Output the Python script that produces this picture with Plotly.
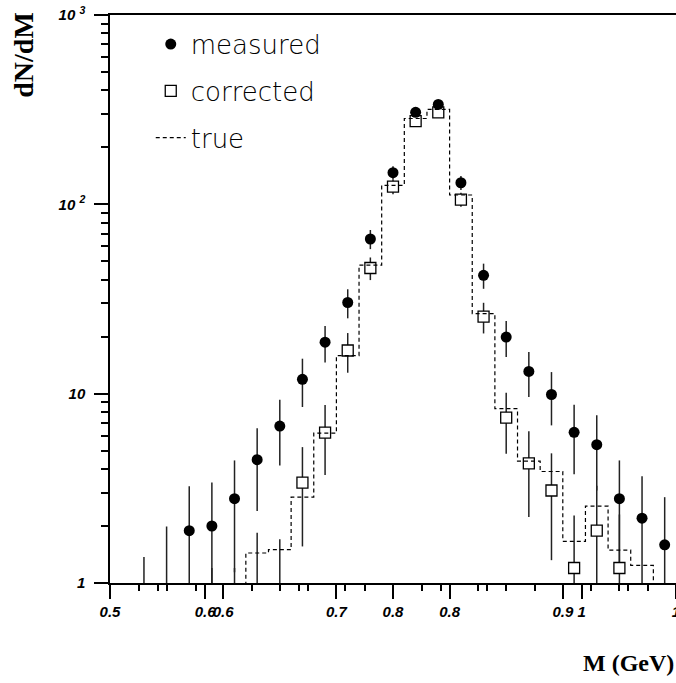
import plotly.graph_objects as go

# ---------------- data ----------------
mass = [0.53, 0.55, 0.57, 0.59, 0.61, 0.63, 0.65, 0.67, 0.69, 0.71, 0.73, 0.75,
        0.77, 0.79, 0.81, 0.83, 0.85, 0.87, 0.89, 0.91, 0.93, 0.95, 0.97, 0.99]
bin_width = 0.02

measured = [0.5, 0.8, 1.89, 2.0, 2.79, 4.48, 6.74, 11.9, 18.7, 30.3, 65.6, 147,
            306, 337, 130, 42.2, 19.9, 13.1, 9.9, 6.25, 5.38, 2.79, 2.2, 1.59]
measured_err = [0.87, 1.19, 1.35, 1.39, 1.65, 2.08, 2.56, 3.4, 4.1, 5.3, 7.6, 12,
                17.5, 18.3, 11, 6.4, 4.3, 3.5, 3.1, 2.5, 2.3, 1.65, 1.46, 1.25]

corrected = [None, None, None, 0.4, 0.4, 0.6, 0.6, 3.39, 6.22, 16.9, 46.1, 124,
             275, 306, 106, 25.5, 7.47, 4.28, 3.08, 1.2, 1.89, 1.2, None, None]
corrected_err = [None, None, None, 0.8, 0.8, 1.24, 1.1, 1.83, 2.5, 4.0, 6.3, 11,
                 16.5, 17.5, 9, 4.7, 2.65, 2.05, 1.76, 1.07, 1.37, 1.1, None, None]

true_vals = [None, None, None, None, 0.5, 1.44, 1.5, 2.84, 6.19, 15.9, 47.7, 126,
             284, 317, 112, 26.5, 8.33, 4.4, 3.88, 1.66, 2.55, 1.49, 1.24, 0.5]

x_tick_vals = [0.5, 0.584, 0.6, 0.7, 0.75, 0.8, 0.9, 0.9167, 1.0]
x_tick_text = ["0.5", "0.6", "0.6", "0.7", "0.8", "0.8", "0.9", "1", "1"]
x_minor_vals = [0.526, 0.542, 0.55, 0.576, 0.625, 0.65, 0.667, 0.675, 0.708, 0.725,
                0.776, 0.792, 0.825, 0.833, 0.85, 0.875, 0.925, 0.95, 0.958, 0.975]
y_tick_vals = [1, 10, 100, 1000]
y_tick_text = ["1", "10", "10 <sup>2</sup>", "10 <sup>3</sup>"]
y_minor_vals = [m * d for d in (1, 10, 100) for m in range(2, 10)]

# ---------------- step outline for the "true" histogram ----------------
step_x, step_y = [], []
for c, v in zip(mass, true_vals):
    if v is None:
        continue
    step_x.append(c - bin_width / 2)
    step_y.append(v)
step_x.append(step_x[-1] + bin_width)
step_y.append(step_y[-1])

tick_font = dict(family="Liberation Sans", size=15, weight="bold", style="italic", color="black")
err_color = "#222222"

fig = go.Figure()

# measured error bars (drawn underneath squares)
fig.add_trace(go.Scatter(
    x=mass, y=measured, mode="markers",
    marker=dict(size=1, color="rgba(0,0,0,0)"),
    error_y=dict(type="data", array=measured_err, visible=True, width=0,
                 thickness=1.5, color=err_color),
    showlegend=False, hoverinfo="skip"))

# corrected
fig.add_trace(go.Scatter(
    x=mass, y=corrected, mode="markers", name="corrected", legendrank=2,
    legendgroup="c",
    marker=dict(symbol="square", size=11, color="white",
                line=dict(color="black", width=1.3)),
    error_y=dict(type="data", array=corrected_err, visible=True, width=0,
                 thickness=1.5, color=err_color)))

# measured markers
fig.add_trace(go.Scatter(
    x=mass, y=measured, mode="markers", name="measured", legendrank=1,
    legendgroup="m",
    marker=dict(symbol="circle", size=11, color="black")))

# true
fig.add_trace(go.Scatter(
    x=step_x, y=step_y, mode="lines", name="true", legendrank=3,
    legendgroup="t", line_shape="hv",
    line=dict(color="black", width=1.2, dash="4px,3px")))

fig.update_layout(
    width=676, height=683,
    template="none",
    margin=dict(l=110, r=0, t=15, b=100),
    paper_bgcolor="white", plot_bgcolor="white",
    showlegend=True,
    legend=dict(x=0.072, y=0.99, xanchor="left", yanchor="top",
                bgcolor="rgba(0,0,0,0)", borderwidth=0,
                font=dict(family="DejaVu Sans", size=26, weight=200, color="black"),
                tracegroupgap=10, itemwidth=30, traceorder="grouped"),
    xaxis=dict(range=[0.5, 1.0], tickmode="array", tickvals=x_tick_vals,
               ticktext=x_tick_text, tickangle=0, ticks="outside", ticklen=14, tickwidth=1.5,
               tickcolor="black", showline=True, linewidth=1.5, linecolor="black",
               mirror=True, showgrid=False, zeroline=False, automargin=False,
               tickfont=tick_font, ticklabeloverflow="allow",
               minor=dict(tickmode="array", tickvals=x_minor_vals, ticks="outside",
                          ticklen=6, tickwidth=1.5, tickcolor="black", showgrid=False)),
    yaxis=dict(type="log", range=[0, 3], tickmode="array", tickvals=y_tick_vals,
               ticktext=y_tick_text, ticks="outside", ticklen=14, tickwidth=1.5,
               tickcolor="black", showline=True, linewidth=1.5, linecolor="black",
               mirror=False, showgrid=False, zeroline=False, automargin=False,
               tickfont=tick_font, ticklabelstandoff=6, ticklabeloverflow="allow",
               minor=dict(tickmode="array", tickvals=y_minor_vals, ticks="outside",
                          ticklen=7, tickwidth=1.5, tickcolor="black", showgrid=False)),
    annotations=[
        dict(text="<b>dN/dM</b>", xref="paper", yref="paper", x=-0.152, y=0.93,
             xanchor="center", yanchor="middle", textangle=-90, showarrow=False,
             font=dict(family="Liberation Serif", size=28, color="black")),
        dict(text="<b>M (GeV)</b>", xref="paper", yref="paper", x=1.0, y=-0.141,
             xanchor="right", yanchor="middle", showarrow=False,
             font=dict(family="Liberation Serif", size=24, color="black")),
    ],
)

fig.write_html("out.html")
